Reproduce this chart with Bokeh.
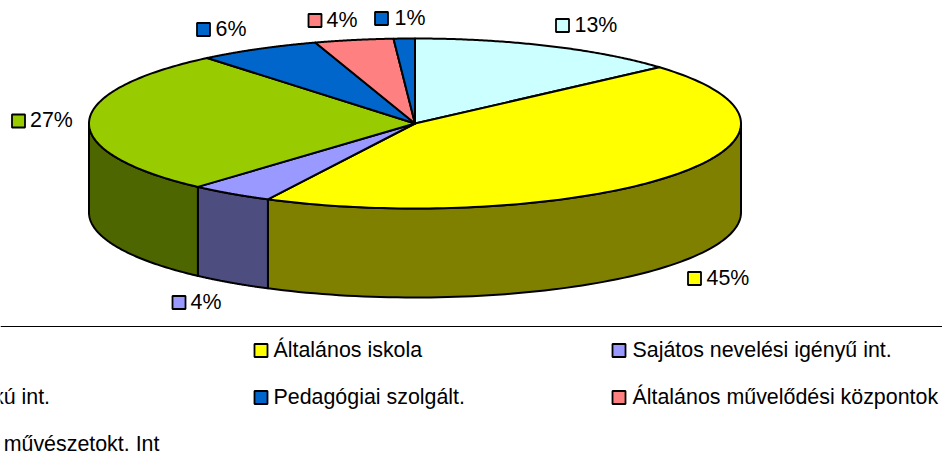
import numpy as np
from bokeh.core.properties import value
from bokeh.embed import file_html
from bokeh.models import Range1d
from bokeh.plotting import figure
from bokeh.resources import INLINE

# Data
shares = [13.5, 43.95, 4.15, 27.4, 6.05, 3.9, 1.05]
share_labels = ["13%", "45%", "4%", "27%", "6%", "4%", "1%"]
legend_labels = ["Óvoda", "Általános iskola", "Sajátos nevelési igényű int.",
                 "Középfokú int.", "Pedagógiai szolgált.", "Általános művelődési központok",
                 "Alapfokú művészetokt. Int"]

# Styles
top_colors = ["#CCFFFF", "#FFFF00", "#9999FF", "#99CC00", "#0066CC", "#FF8080", "#0066CC"]
side_colors = ["#668080", "#808000", "#4D4D80", "#4D6600", "#003366", "#804040", "#003366"]

# Layout (pixels)
W, H = 942, 455
CX, CY, RX, RY, DEPTH = 414.5, 123, 326, 85, 89
FONT = value("Liberation Sans")
FS = "21.4px"
TEXT_DY = -0.8
label_marker_x = [562, 694, 178.5, 18, 203, 314.5, 381]
label_marker_y = [25, 278, 302, 120.5, 29, 20, 18]
label_text_x = [574, 706, 190, 29.5, 215, 326, 394]
legend_marker_x = [-98.5, 260.5, 618.5] * 2 + [-98.5]
legend_text_x = [-86, 273, 632] * 2 + [-86]
legend_y = [350] * 3 + [397] * 3 + [444]

p = figure(width=W, height=H, x_range=Range1d(0, W), y_range=Range1d(H, 0),
           output_backend="svg", toolbar_location=None, min_border=0,
           margin=(0, 0, 0, 0), outline_line_color=None, background_fill_color="white",
           border_fill_color="white")
p.axis.visible = False
p.grid.visible = False


def ex(a):
    return CX + RX * np.sin(a)


def ey(a):
    return CY - RY * np.cos(a)


LW = 2
edges = np.radians(np.concatenate([[0], np.cumsum(shares)]) * 3.6)

# Sides: only the front half (90 to 270 degrees clockwise from the top) is visible
lo, hi = np.pi / 2, 3 * np.pi / 2
for i in range(len(shares)):
    a0, a1 = max(edges[i], lo), min(edges[i + 1], hi)
    if a1 <= a0:
        continue
    t = np.linspace(a0, a1, 80)
    xs = np.concatenate([ex(t), ex(t[::-1])])
    ys = np.concatenate([ey(t), ey(t[::-1]) + DEPTH])
    p.patch(xs, ys, fill_color=side_colors[i], line_color="black", line_width=LW,
            line_join="round")

# Top faces
for i in range(len(shares)):
    t = np.linspace(edges[i], edges[i + 1], 120)
    xs = np.concatenate([[CX], ex(t)])
    ys = np.concatenate([[CY], ey(t)])
    p.patch(xs, ys, fill_color=top_colors[i], line_color="black", line_width=LW,
            line_join="round")

# Data labels
p.scatter(label_marker_x, label_marker_y, marker="square", size=13,
          fill_color=top_colors, line_color="black", line_width=1.8)
p.text(label_text_x, np.array(label_marker_y) + TEXT_DY, text=share_labels, text_font=FONT,
       text_font_size=FS, text_color="black", text_baseline="middle", text_align="left")

# Separator
p.line([0, W], [326, 326], line_color="black", line_width=1)

# Legend (cut off by the left edge, as in the source)
p.scatter(legend_marker_x, legend_y, marker="square", size=13,
          fill_color=top_colors, line_color="black", line_width=1.8)
p.text(legend_text_x, np.array(legend_y) + TEXT_DY, text=legend_labels, text_font=FONT,
       text_font_size=FS, text_color="black", text_baseline="middle", text_align="left")

open("out.html", "w").write(file_html(p, INLINE))
